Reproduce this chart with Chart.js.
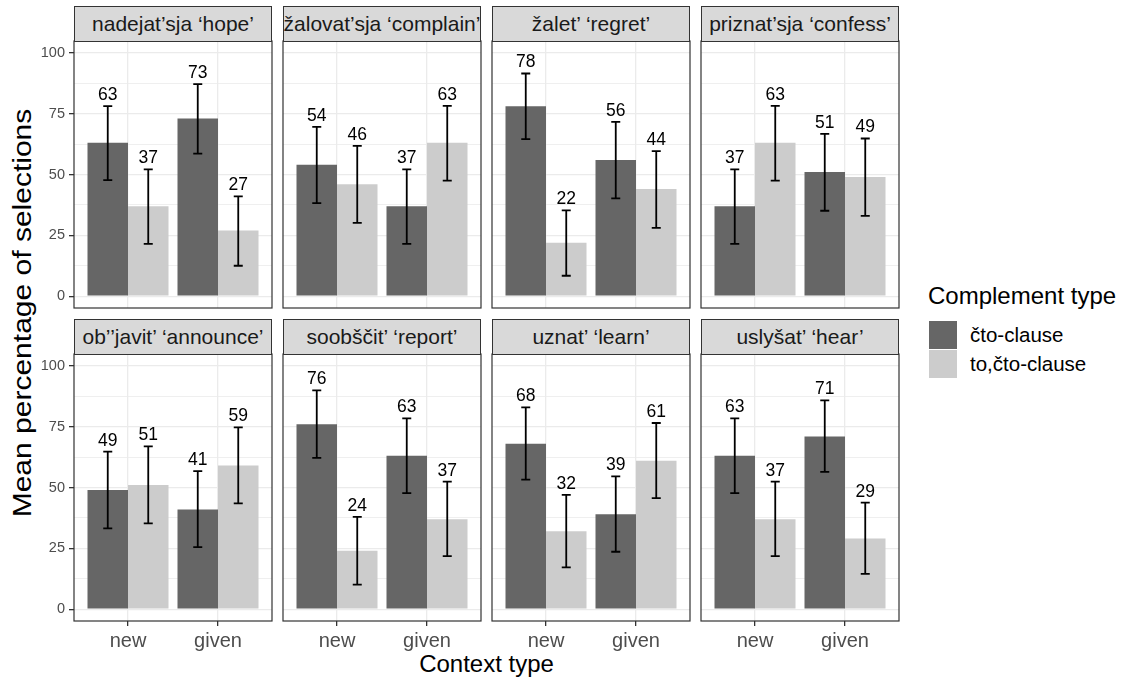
<!DOCTYPE html>
<html lang="en">
<head>
  <meta http-equiv="content-type" content="text/html; charset=utf-8" />
  <script src="https://cdn.jsdelivr.net/npm/chart.js/dist/chart.umd.min.js"></script>
  <style>
    body { margin: 0; background: #fff; font-family: 'Liberation Sans', Arial, sans-serif; }
    #page { position: relative; width: 1125px; height: 680px; overflow: hidden; }
    .strip { position: absolute; box-sizing: border-box; border: 1px solid #333; background: #d9d9d9;
             color: #1a1a1a; font-size: 21px; white-space: nowrap; overflow: hidden;
             display: flex; align-items: center; justify-content: center; }
    .panel { position: absolute; }
    .txt { position: absolute; color: #000; white-space: nowrap; }
    .key { position: absolute; width: 28px; height: 28px; }
  </style>
</head>
<body>
<div id="page">
  <div class="txt" style="left:-278px; top:298px; width:600px; height:30px; line-height:30px; text-align:center; font-size:25px; transform:rotate(-90deg) scaleX(1.2);">Mean percentage of selections</div>
  <div class="txt" style="left:74px; top:650px; width:825px; text-align:center; font-size:24px;">Context type</div>

  <div class="txt" style="left:928px; top:282px; font-size:24px;">Complement type</div>
  <div class="key" style="left:929px; top:321px; background:#666666;"></div>
  <div class="key" style="left:929px; top:350px; background:#cccccc;"></div>
  <div class="txt" style="left:970px; top:323px; font-size:20.5px;">čto-clause</div>
  <div class="txt" style="left:970px; top:352px; font-size:20.5px;">to,čto-clause</div>
</div>

<script>
// facets (verbs) and x categories
const verbs = ['nadejat’sja ‘hope’', 'žalovat’sja ‘complain’', 'žalet’ ‘regret’', 'priznat’sja ‘confess’',
               'ob’’javit’ ‘announce’', 'soobščit’ ‘report’', 'uznat’ ‘learn’', 'uslyšat’ ‘hear’'];
const contexts = ['new', 'given'];
const seriesNames = ['čto-clause', 'to,čto-clause'];

// mean percentages, per verb: [new, given]
const ctoMean   = [[63, 73], [54, 37], [78, 56], [37, 51], [49, 41], [76, 63], [68, 39], [63, 71]];
const toctoMean = [[37, 27], [46, 63], [22, 44], [63, 49], [51, 59], [24, 37], [32, 61], [37, 29]];

// error bar ends, per verb: [new, given]
const ctoLow    = [[47.7, 58.6], [38.2, 21.5], [64.5, 40.2], [21.5, 35.1], [33.2, 25.5], [62.2, 47.7], [53.2, 23.6], [47.7, 56.4]];
const ctoHigh   = [[78.1, 87.1], [69.6, 52.1], [91.5, 71.6], [52.1, 66.7], [64.7, 56.7], [89.9, 78.4], [82.9, 54.6], [78.4, 85.8]];
const toctoLow  = [[21.5, 12.5], [30.1, 47.5], [8.4, 28.1], [47.5, 33.0], [35.3, 43.5], [10.1, 21.8], [17.2, 45.6], [21.8, 14.5]];
const toctoHigh = [[52.1, 41.0], [61.8, 78.2], [35.3, 59.6], [78.2, 64.8], [66.9, 74.7], [37.9, 52.4], [47.0, 76.5], [52.4, 43.8]];

const yTicks = [0, 25, 50, 75, 100];
const yMinor = [12.5, 37.5, 62.5, 87.5];

const colors = ['#666666', '#cccccc'];

// panel geometry (page px)
const colLeft = [74, 283, 492, 701];
const plotTop = [41, 354];
const panelW = 198, plotH = 267, stripH = 35.5, pad = 20;

const page = document.getElementById('page');

// error bars, value labels and panel border
const panelDecor = {
  id: 'panelDecor',
  afterDatasetsDraw(chart, args, opts) {
    const ctx = chart.ctx, a = chart.chartArea, y = chart.scales.y;
    const p = opts.panel;
    const sets = [[ctoMean, ctoLow, ctoHigh], [toctoMean, toctoLow, toctoHigh]];
    ctx.save();
    sets.forEach((s, di) => {
      chart.getDatasetMeta(di).data.forEach((bar, j) => {
        const x = bar.x;
        const top = y.getPixelForValue(s[2][p][j]);
        const bot = y.getPixelForValue(s[1][p][j]);
        ctx.strokeStyle = '#000';
        ctx.lineWidth = 1.8;
        ctx.beginPath();
        ctx.moveTo(x, top); ctx.lineTo(x, bot);
        ctx.moveTo(x - 4.5, top); ctx.lineTo(x + 4.5, top);
        ctx.moveTo(x - 4.5, bot); ctx.lineTo(x + 4.5, bot);
        ctx.stroke();
        ctx.fillStyle = '#000';
        ctx.font = '17.5px "Liberation Sans", Arial, sans-serif';
        ctx.textAlign = 'center';
        ctx.textBaseline = 'alphabetic';
        ctx.fillText(String(s[0][p][j]), x, top - 6);
      });
    });
    ctx.strokeStyle = '#333';
    ctx.lineWidth = 1.2;
    ctx.strokeRect(a.left, a.top, a.width, a.height);
    ctx.restore();
  }
};

verbs.forEach((verb, p) => {
  const r = Math.floor(p / 4), c = p % 4;
  const axW = c === 0 ? 54 : 0;
  const axH = r === 1 ? 40 : 0;

  const strip = document.createElement('div');
  strip.className = 'strip';
  strip.style.left = colLeft[c] + 'px';
  strip.style.top = (plotTop[r] - stripH) + 'px';
  strip.style.width = panelW + 'px';
  strip.style.height = (stripH + 1) + 'px';
  strip.textContent = verb;

  const box = document.createElement('div');
  box.className = 'panel';
  const w = axW + pad + panelW + pad, h = pad + plotH + axH + pad;
  box.style.left = (colLeft[c] - pad - axW) + 'px';
  box.style.top = (plotTop[r] - pad) + 'px';
  box.style.width = w + 'px';
  box.style.height = h + 'px';
  const cv = document.createElement('canvas');
  cv.width = w; cv.height = h;
  box.appendChild(cv);
  page.appendChild(box);
  page.appendChild(strip);

  new Chart(cv, {
    type: 'bar',
    data: {
      datasets: [
        { label: seriesNames[0], data: ctoMean[p].map((v, i) => ({ x: i + 1, y: v })), backgroundColor: colors[0] },
        { label: seriesNames[1], data: toctoMean[p].map((v, i) => ({ x: i + 1, y: v })), backgroundColor: colors[1] }
      ]
    },
    options: {
      responsive: false,
      animation: false,
      layout: { padding: pad },
      categoryPercentage: 0.9,
      barPercentage: 1.0,
      plugins: {
        legend: { display: false },
        tooltip: { enabled: false },
        panelDecor: { panel: p }
      },
      scales: {
        x: {
          type: 'linear',
          min: 0.4, max: 2.6,
          offset: false,
          afterBuildTicks: s => { s.ticks = contexts.map((_, i) => ({ value: i + 1 })); },
          afterFit: s => { s.height = axH; },
          border: { display: false },
          grid: { offset: false, color: '#ebebeb', lineWidth: 1.3, drawTicks: r === 1, tickLength: 5, tickColor: '#333' },
          ticks: {
            display: r === 1,
            padding: 3,
            color: '#4d4d4d',
            font: { size: 20, family: '"Liberation Sans", Arial, sans-serif' },
            callback: v => contexts[v - 1]
          }
        },
        y: {
          min: -4.85, max: 104.85,
          afterBuildTicks: s => {
            s.ticks = yTicks.concat(yMinor).sort((a, b) => a - b).map(v => ({ value: v }));
          },
          afterFit: s => { s.width = axW; },
          border: { display: false },
          grid: {
            color: '#ebebeb',
            lineWidth: ctx => (yTicks.includes(ctx.tick.value) ? 1.3 : 0.8),
            drawTicks: c === 0,
            tickLength: 5,
            tickColor: ctx => (yTicks.includes(ctx.tick.value) ? '#333' : 'rgba(0,0,0,0)')
          },
          ticks: {
            display: c === 0,
            padding: 4,
            color: '#4d4d4d',
            font: { size: 14.5, family: '"Liberation Sans", Arial, sans-serif' },
            callback: v => (yTicks.includes(v) ? String(v) : '')
          }
        }
      }
    },
    plugins: [panelDecor]
  });
});
</script>
</body>
</html>
